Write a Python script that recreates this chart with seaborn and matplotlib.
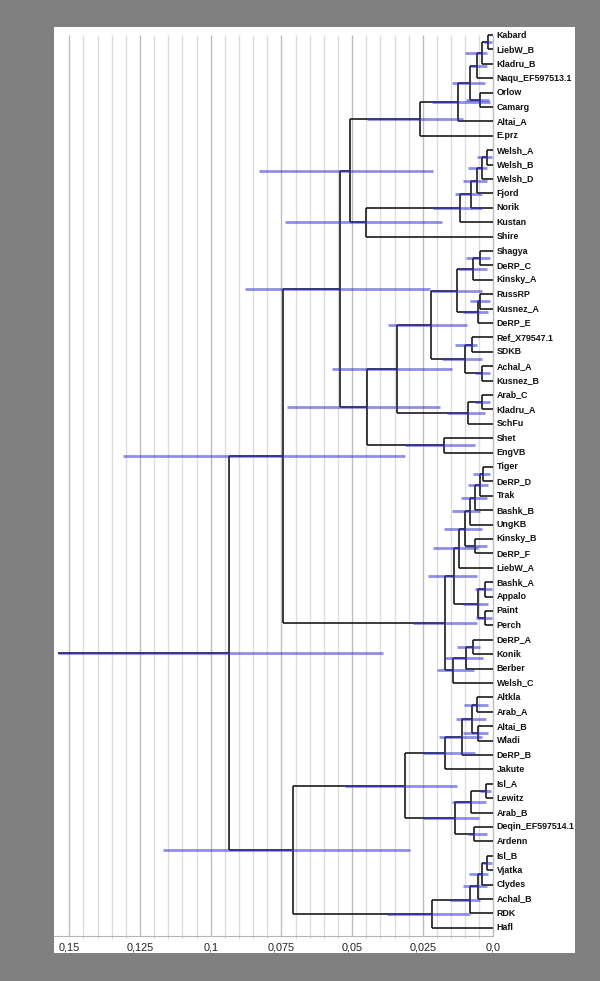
import matplotlib
matplotlib.use("Agg")
import matplotlib.pyplot as plt
import seaborn as sns
from matplotlib.patches import Rectangle

# leaf order, top to bottom
leaves = ["Kabard", "LiebW_B", "Kladru_B", "Naqu_EF597513.1", "Orlow", "Camarg",
          "Altai_A", "E.prz", "Welsh_A", "Welsh_B", "Welsh_D", "Fjord", "Norik",
          "Kustan", "Shire", "Shagya", "DeRP_C", "Kinsky_A", "RussRP", "Kusnez_A",
          "DeRP_E", "Ref_X79547.1", "SDKB", "Achal_A", "Kusnez_B", "Arab_C",
          "Kladru_A", "SchFu", "Shet", "EngVB", "Tiger", "DeRP_D", "Trak",
          "Bashk_B", "UngKB", "Kinsky_B", "DeRP_F", "LiebW_A", "Bashk_A", "Appalo",
          "Paint", "Perch", "DeRP_A", "Konik", "Berber", "Welsh_C", "Altkla",
          "Arab_A", "Altai_B", "Wladi", "DeRP_B", "Jakute", "Isl_A", "Lewitz",
          "Arab_B", "Deqin_EF597514.1", "Ardenn", "Isl_B", "Vjatka", "Clydes",
          "Achal_B", "RDK", "Hafl"]

# internal nodes (children must be defined before parents)
node_names = ["n1", "n2", "n3", "n4", "n5", "n6", "n7",
              "w1", "w2", "w3", "w4", "w5", "w6", "aw",
              "s1", "s2", "s3", "s4", "s5", "r1", "r2", "r3", "s6", "k1", "k2", "s7",
              "e1", "s8", "P",
              "t1", "t2", "t3", "t4", "t5", "t6", "t7", "b1", "b2", "b3", "t8",
              "d1", "d2", "d3", "T", "Q",
              "a1", "a2", "a3", "a4", "a5", "i1", "i2", "i3", "i4", "a6",
              "h1", "h2", "h3", "h4", "h5", "B", "R"]
node_children = [("Kabard", "LiebW_B"), ("n1", "Kladru_B"), ("n2", "Naqu_EF597513.1"),
                 ("Orlow", "Camarg"), ("n3", "n4"), ("n5", "Altai_A"), ("n6", "E.prz"),
                 ("Welsh_A", "Welsh_B"), ("w1", "Welsh_D"), ("w2", "Fjord"), ("w3", "Norik"),
                 ("w4", "Kustan"), ("w5", "Shire"), ("n7", "w6"),
                 ("Shagya", "DeRP_C"), ("s1", "Kinsky_A"), ("RussRP", "Kusnez_A"),
                 ("s3", "DeRP_E"), ("s2", "s4"), ("Ref_X79547.1", "SDKB"),
                 ("Achal_A", "Kusnez_B"), ("r1", "r2"), ("s5", "r3"),
                 ("Arab_C", "Kladru_A"), ("k1", "SchFu"), ("s6", "k2"),
                 ("Shet", "EngVB"), ("s7", "e1"), ("aw", "s8"),
                 ("Tiger", "DeRP_D"), ("t1", "Trak"), ("t2", "Bashk_B"), ("t3", "UngKB"),
                 ("Kinsky_B", "DeRP_F"), ("t4", "t5"), ("t6", "LiebW_A"),
                 ("Bashk_A", "Appalo"), ("Paint", "Perch"), ("b1", "b2"), ("t7", "b3"),
                 ("DeRP_A", "Konik"), ("d1", "Berber"), ("d2", "Welsh_C"), ("t8", "d3"),
                 ("P", "T"),
                 ("Altkla", "Arab_A"), ("Altai_B", "Wladi"), ("a1", "a2"), ("a3", "DeRP_B"),
                 ("a4", "Jakute"), ("Isl_A", "Lewitz"), ("i1", "Arab_B"),
                 ("Deqin_EF597514.1", "Ardenn"), ("i2", "i3"), ("a5", "i4"),
                 ("Isl_B", "Vjatka"), ("h1", "Clydes"), ("h2", "Achal_B"), ("h3", "RDK"),
                 ("h4", "Hafl"), ("a6", "h5"), ("Q", "B")]
node_heights = [0.0018, 0.0041, 0.0058, 0.0048, 0.0083, 0.0124, 0.0260,
                0.0024, 0.0042, 0.0059, 0.0081, 0.0118, 0.0452, 0.0507,
                0.0048, 0.0071, 0.0048, 0.0056, 0.0128, 0.0077, 0.0042, 0.0101, 0.0222,
                0.0042, 0.0089, 0.0342, 0.0174, 0.0448, 0.0543,
                0.0036, 0.0048, 0.0065, 0.0083, 0.0065, 0.0101, 0.0122, 0.0030, 0.0030,
                0.0054, 0.0140, 0.0074, 0.0098, 0.0144, 0.0171, 0.0745,
                0.0057, 0.0054, 0.0077, 0.0110, 0.0171, 0.0027, 0.0081, 0.0069, 0.0136,
                0.0313, 0.0022, 0.0042, 0.0056, 0.0083, 0.0216, 0.0709, 0.0935]
hpd_low = [0.0005, 0.0022, 0.0024, 0.0015, 0.0030, 0.0012, 0.0108,
           0.0006, 0.0024, 0.0024, 0.0042, 0.0042, 0.0183, 0.0213,
           0.0012, 0.0024, 0.0012, 0.0018, 0.0042, 0.0059, 0.0012, 0.0042, 0.0095,
           0.0012, 0.0030, 0.0148, 0.0065, 0.0189, 0.0225,
           0.0012, 0.0018, 0.0024, 0.0048, 0.0024, 0.0040, 0.0056, 0.0006, 0.0006,
           0.0018, 0.0059, 0.0048, 0.0036, 0.0070, 0.0059, 0.0313,
           0.0018, 0.0018, 0.0027, 0.0042, 0.0065, 0.0009, 0.0027, 0.0023, 0.0051,
           0.0128, 0.0005, 0.0018, 0.0024, 0.0048, 0.0083, 0.0295, 0.0391]
hpd_high = [0.0034, 0.0101, 0.0083, 0.0097, 0.0148, 0.0219, 0.0448,
            0.0058, 0.0090, 0.0109, 0.0136, 0.0213, 0.0737, 0.0828,
            0.0097, 0.0126, 0.0083, 0.0107, 0.0219, 0.0136, 0.0065, 0.0183, 0.0374,
            0.0065, 0.0165, 0.0572, 0.0313, 0.0731, 0.0879,
            0.0071, 0.0089, 0.0115, 0.0148, 0.0101, 0.0174, 0.0213, 0.0065, 0.0062,
            0.0107, 0.0231, 0.0130, 0.0174, 0.0200, 0.0284, 0.1310,
            0.0104, 0.0107, 0.0133, 0.0193, 0.0249, 0.0048, 0.0148, 0.0090, 0.0248,
            0.0525, 0.0037, 0.0086, 0.0109, 0.0154, 0.0378, 0.1170, 0.1540]
root_stem = 0.1540

tick_values = [0.15, 0.125, 0.1, 0.075, 0.05, 0.025, 0.0]
tick_labels = ["0,15", "0,125", "0,1", "0,075", "0,05", "0,025", "0,0"]

sns.set_theme(style="white")
plt.rcParams['font.family'] = ['Liberation Sans', 'DejaVu Sans']

W, H = 600, 981
fig = plt.figure(figsize=(W / 100, H / 100), dpi=100, facecolor='#808080')
fig.patches.append(Rectangle((54 / W, 28 / H), 521 / W, 926 / H, transform=fig.transFigure,
                             facecolor='white', edgecolor='none', zorder=-5))
ax = fig.add_axes([54 / W, 45 / H, 521 / W, 909 / H])
ax.set_facecolor('none')
ax.set_zorder(5)

x_left, x_right = 0.15541, -0.02882
y_bottom, y_top = 62.57, -0.556
ax.set_xlim(x_left, x_right)
ax.set_ylim(y_bottom, y_top)

# grid lines every 0.005, darker every 0.025
for k in range(31):
    gx = k * 0.005
    col = '#bdbdbd' if k % 5 == 0 else '#dcdcdc'
    ax.vlines(gx, 0, y_bottom, color=col, lw=1.0, zorder=1)

# positions
xpos, ypos = {}, {}
for i, name in enumerate(leaves):
    xpos[name] = 0.0
    ypos[name] = i
for name, (c1, c2), h in zip(node_names, node_children, node_heights):
    xpos[name] = h
    ypos[name] = (ypos[c1] + ypos[c2]) / 2

branch = dict(color='#1a1a1a', lw=1.2, zorder=2)
for name, (c1, c2) in zip(node_names, node_children):
    ax.vlines(xpos[name], ypos[c1], ypos[c2], **branch)
    for c in (c1, c2):
        ax.hlines(ypos[c], xpos[c], xpos[name], **branch)
ax.hlines(ypos["R"], xpos["R"], root_stem, **branch)

# node height bars
for name, lo, hi in zip(node_names, hpd_low, hpd_high):
    ax.hlines(ypos[name], lo, hi, color=(0.2, 0.2, 0.85), alpha=0.55, lw=2.0, zorder=3)

for name in leaves:
    ax.annotate(name, (0, ypos[name]), xytext=(2.3, 0), textcoords='offset points',
                va='center', ha='left', fontsize=6.4, fontweight='bold', color='#111111')

for side in ['top', 'left', 'right']:
    ax.spines[side].set_visible(False)
ax.spines['bottom'].set_bounds(0.0, x_left)
ax.spines['bottom'].set_color('#b5b5b5')
ax.spines['bottom'].set_linewidth(0.8)
ax.set_yticks([])
ax.set_xticks(tick_values)
ax.set_xticklabels(tick_labels)
ax.set_xticks([k * 0.005 for k in range(31)], minor=True)
ax.tick_params(axis='x', which='major', length=2.5, width=0.6, color='#888888',
               labelsize=7.8, labelcolor='#222222', pad=2.5)
ax.tick_params(axis='x', which='minor', length=1.5, width=0.5, color='#aaaaaa', bottom=True)

fig.savefig("out.png", dpi=100, facecolor=fig.get_facecolor())
